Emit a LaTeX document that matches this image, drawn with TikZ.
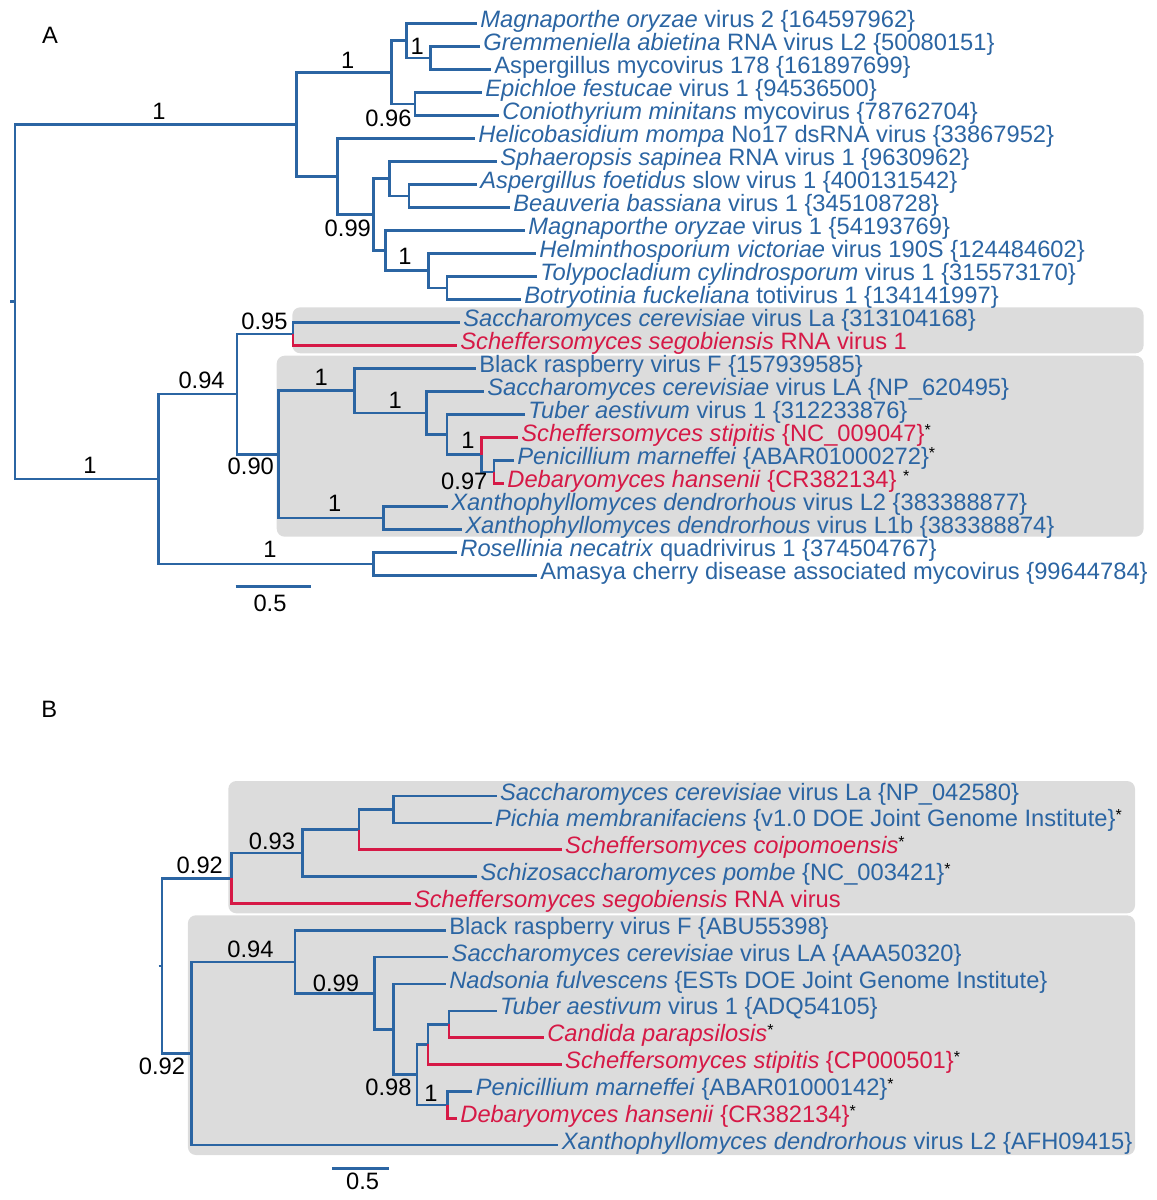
\documentclass[tikz,border=0pt]{standalone}
\usepackage{fontspec}
\setmainfont{Liberation Sans}
\definecolor{treeblue}{RGB}{43,101,163}
\definecolor{treered}{RGB}{214,25,70}
\definecolor{cladegray}{RGB}{220,220,220}
\newcommand{\starnote}{\smash{\raisebox{3pt}{\fontsize{8}{8}\selectfont\color{black}*}}}
\tikzset{
  branch/.style={treeblue, line width=1.3pt},
  redbranch/.style={treered, line width=1.3pt},
  taxon/.style={anchor=base west, inner sep=0pt, xshift=1.5pt, yshift=-2pt, text=treeblue},
  redtaxon/.style={taxon, text=treered},
  support/.style={inner sep=0pt, text=black},
  clade/.style={fill=cladegray, rounded corners=4pt},
}

\begin{document}
\begin{tikzpicture}[x=0.5pt, y=-0.5pt, font=\fontsize{11.85}{14}\selectfont]
\useasboundingbox (0,0) rectangle (1157,1200);

% shaded clades
\fill[clade] (292.3,307.3) rectangle (1143.6,353.3);
\fill[clade] (276.7,355.7) rectangle (1143.6,536.7);
\fill[clade] (228.3,781) rectangle (1135,913.3);
\fill[clade] (187.9,915.3) rectangle (1135,1155);

% panel A: tips
\coordinate (a1) at (477,23.3);
\coordinate (a2) at (480,46.3);
\coordinate (a3) at (491,69.3);
\coordinate (a4) at (482,92.3);
\coordinate (a5) at (499,115.3);
\coordinate (a6) at (475,138.3);
\coordinate (a7) at (497,161.3);
\coordinate (a8) at (477,184.3);
\coordinate (a9) at (510,207.3);
\coordinate (a10) at (525,230.3);
\coordinate (a11) at (536,253.3);
\coordinate (a12) at (537,276.3);
\coordinate (a13) at (521,299.3);
\coordinate (a14) at (460,322.3);
\coordinate (a15) at (457,345.3);
\coordinate (a16) at (476,368.3);
\coordinate (a17) at (484,391.3);
\coordinate (a18) at (525,414.3);
\coordinate (a19) at (518,437.3);
\coordinate (a20) at (514,460.3);
\coordinate (a21) at (504,483.3);
\coordinate (a22) at (448,506.3);
\coordinate (a23) at (462,529.3);
\coordinate (a24) at (457,552.3);
\coordinate (a25) at (537,575.3);

% panel A: inner nodes
\coordinate (sA) at (10.4,301.6);
\coordinate (rA) at (14.8,301.6);
\coordinate (nU) at (296.7,124.3);
\coordinate (nU1) at (391.4,72.2);
\coordinate (nU1a) at (406.2,40.6);
\coordinate (nU1a2) at (430.3,57.8);
\coordinate (nU1b) at (415.1,103.8);
\coordinate (nU2) at (337.4,176.4);
\coordinate (nU2a) at (373.7,214.5);
\coordinate (nU2a1) at (389.6,178.6);
\coordinate (nU2a1b) at (408.8,195.8);
\coordinate (nU2a2) at (385.5,250.4);
\coordinate (nU2a2b) at (428.4,270.6);
\coordinate (nU2a2b2) at (446.9,287.8);
\coordinate (nL) at (158.3,478.9);
\coordinate (nL1) at (236.8,394);
\coordinate (nL1a) at (293,333.8);
\coordinate (nL1b) at (278.2,454.2);
\coordinate (nL1b1) at (354.4,390.6);
\coordinate (nL1b1b) at (426.2,412.9);
\coordinate (nL1b1b2) at (446.9,434.4);
\coordinate (nL1b1b2b) at (481.7,454.6);
\coordinate (nL1b1b2b2) at (493.9,471.8);
\coordinate (nL1b2) at (383.7,517.8);
\coordinate (nL2) at (373.7,563.8);

% panel A: branches
\draw[branch] (sA) -- (rA);
\draw[branch] (rA) |- (nU) (rA) |- (nL);
\draw[branch] (nU) |- (nU1) (nU) |- (nU2);
\draw[branch] (nU1) |- (nU1a) (nU1) |- (nU1b);
\draw[branch] (nU1a) |- (a1) (nU1a) |- (nU1a2);
\draw[branch] (nU1a2) |- (a2) (nU1a2) |- (a3);
\draw[branch] (nU1b) |- (a4) (nU1b) |- (a5);
\draw[branch] (nU2) |- (a6) (nU2) |- (nU2a);
\draw[branch] (nU2a) |- (nU2a1) (nU2a) |- (nU2a2);
\draw[branch] (nU2a1) |- (a7) (nU2a1) |- (nU2a1b);
\draw[branch] (nU2a1b) |- (a8) (nU2a1b) |- (a9);
\draw[branch] (nU2a2) |- (a10) (nU2a2) |- (nU2a2b);
\draw[branch] (nU2a2b) |- (a11) (nU2a2b) |- (nU2a2b2);
\draw[branch] (nU2a2b2) |- (a12) (nU2a2b2) |- (a13);
\draw[branch] (nL) |- (nL1) (nL) |- (nL2);
\draw[branch] (nL1) |- (nL1a) (nL1) |- (nL1b);
\draw[branch] (nL1a) |- (a14);
\draw[redbranch] (nL1a) |- (a15);
\draw[branch] (nL1b) |- (nL1b1) (nL1b) |- (nL1b2);
\draw[branch] (nL1b1) |- (a16) (nL1b1) |- (nL1b1b);
\draw[branch] (nL1b1b) |- (a17) (nL1b1b) |- (nL1b1b2);
\draw[branch] (nL1b1b2) |- (a18) (nL1b1b2) |- (nL1b1b2b);
\draw[redbranch] (nL1b1b2b) |- (a19);
\draw[branch] (nL1b1b2b) |- (nL1b1b2b2);
\draw[branch] (nL1b1b2b2) |- (a20);
\draw[redbranch] (nL1b1b2b2) |- (a21);
\draw[branch] (nL1b2) |- (a22) (nL1b2) |- (a23);
\draw[branch] (nL2) |- (a24) (nL2) |- (a25);

% panel A: taxa
\node[taxon] (t1) at (a1) {\textit{Magnaporthe oryzae} virus 2 \{164597962\}};
\node[taxon] (t2) at (a2) {\textit{Gremmeniella abietina} RNA virus L2 \{50080151\}};
\node[taxon] (t3) at (a3) {Aspergillus mycovirus 178 \{161897699\}};
\node[taxon] (t4) at (a4) {\textit{Epichloe festucae} virus 1 \{94536500\}};
\node[taxon] (t5) at (a5) {\textit{Coniothyrium minitans} mycovirus \{78762704\}};
\node[taxon] (t6) at (a6) {\textit{Helicobasidium mompa} No17 dsRNA virus \{33867952\}};
\node[taxon] (t7) at (a7) {\textit{Sphaeropsis sapinea} RNA virus 1 \{9630962\}};
\node[taxon] (t8) at (a8) {\textit{Aspergillus foetidus} slow virus 1 \{400131542\}};
\node[taxon] (t9) at (a9) {\textit{Beauveria bassiana} virus 1 \{345108728\}};
\node[taxon] (t10) at (a10) {\textit{Magnaporthe oryzae} virus 1 \{54193769\}};
\node[taxon] (t11) at (a11) {\textit{Helminthosporium victoriae} virus 190S \{124484602\}};
\node[taxon] (t12) at (a12) {\textit{Tolypocladium cylindrosporum} virus 1 \{315573170\}};
\node[taxon] (t13) at (a13) {\textit{Botryotinia fuckeliana} totivirus 1 \{134141997\}};
\node[taxon] (t14) at (a14) {\textit{Saccharomyces cerevisiae} virus La \{313104168\}};
\node[redtaxon] (t15) at (a15) {\textit{Scheffersomyces segobiensis} RNA virus 1};
\node[taxon] (t16) at (a16) {Black raspberry virus F \{157939585\}};
\node[taxon] (t17) at (a17) {\textit{Saccharomyces cerevisiae} virus LA \{NP\_620495\}};
\node[taxon] (t18) at (a18) {\textit{Tuber aestivum} virus 1 \{312233876\}};
\node[redtaxon] (t19) at (a19) {\textit{Scheffersomyces stipitis} \{NC\_009047\}\starnote};
\node[taxon] (t20) at (a20) {\textit{Penicillium marneffei} \{ABAR01000272\}\starnote};
\node[redtaxon] (t21) at (a21) {\textit{Debaryomyces hansenii} \{CR382134\} \starnote};
\node[taxon] (t22) at (a22) {\textit{Xanthophyllomyces dendrorhous} virus L2 \{383388877\}};
\node[taxon] (t23) at (a23) {\textit{Xanthophyllomyces dendrorhous} virus L1b \{383388874\}};
\node[taxon] (t24) at (a24) {\textit{Rosellinia necatrix} quadrivirus 1 \{374504767\}};
\node[taxon] (t25) at (a25) {Amasya cherry disease associated mycovirus \{99644784\}};

% panel A: support values
\node (panelA) at (50,35) {A};
\node[support] (pA1) at (159,111.7) {1};
\node[support] (pA2) at (347.8,60) {1};
\node[support] (pA3) at (417.3,46.7) {1};
\node[support] (pA4) at (388.5,118.3) {0.96};
\node[support] (pA5) at (347.8,228.3) {0.99};
\node[support] (pA6) at (405,256.7) {1};
\node[support] (pA7) at (89.9,465) {1};
\node[support] (pA8) at (201.6,380) {0.94};
\node[support] (pA9) at (264.5,321.7) {0.95};
\node[support] (pA10) at (250.8,466.7) {0.90};
\node[support] (pA11) at (321.1,377.3) {1};
\node[support] (pA12) at (395.1,400) {1};
\node[support] (pA13) at (468,440) {1};
\node[support] (pA14) at (464.3,481) {0.97};
\node[support] (pA15) at (334.8,503.3) {1};
\node[support] (pA16) at (270,549.3) {1};

% panel A: scale
\coordinate (barA1) at (235.7,586.7);
\coordinate (barA2) at (310.8,586.7);
\draw[branch] (barA1) -- (barA2);
\node[support] (barAlab) at (270,603.3) {0.5};

% panel B: tips
\coordinate (b1) at (496.6,796);
\coordinate (b2) at (491.7,822.9);
\coordinate (b3) at (561.8,849.7);
\coordinate (b4) at (477.3,876.6);
\coordinate (b5) at (410.6,903.4);
\coordinate (b6) at (445.9,930.3);
\coordinate (b7) at (448.3,957.1);
\coordinate (b8) at (445.9,984);
\coordinate (b9) at (496.6,1010.8);
\coordinate (b10) at (543.9,1037.7);
\coordinate (b11) at (561.8,1064.5);
\coordinate (b12) at (472.4,1091.4);
\coordinate (b13) at (457,1118.2);
\coordinate (b14) at (558.4,1145.1);

% panel B: inner nodes
\coordinate (sB) at (158.5,965.9);
\coordinate (rB) at (162,965.9);
\coordinate (nBU) at (231.2,878.3);
\coordinate (nBU1) at (302.3,853.1);
\coordinate (nBU1a) at (358.9,829.6);
\coordinate (nBU1a1) at (393.3,809.5);
\coordinate (nBL) at (191.3,1053.5);
\coordinate (nBL1) at (294.9,961.8);
\coordinate (nBL1b) at (374.4,993.2);
\coordinate (nBL1b2) at (393.3,1029.3);
\coordinate (nBL1b2b) at (416.9,1074.6);
\coordinate (nBL1b2b1) at (428,1044.4);
\coordinate (nBL1b2b1a) at (448.8,1024.3);
\coordinate (nBL1b2b2) at (447.7,1104.8);

% panel B: branches
\draw[branch] (sB) -- (rB);
\draw[branch] (rB) |- (nBU) (rB) |- (nBL);
\draw[branch] (nBU) |- (nBU1);
\draw[redbranch] (nBU) |- (b5);
\draw[branch] (nBU1) |- (nBU1a) (nBU1) |- (b4);
\draw[branch] (nBU1a) |- (nBU1a1);
\draw[redbranch] (nBU1a) |- (b3);
\draw[branch] (nBU1a1) |- (b1) (nBU1a1) |- (b2);
\draw[branch] (nBL) |- (nBL1) (nBL) |- (b14);
\draw[branch] (nBL1) |- (b6) (nBL1) |- (nBL1b);
\draw[branch] (nBL1b) |- (b7) (nBL1b) |- (nBL1b2);
\draw[branch] (nBL1b2) |- (b8) (nBL1b2) |- (nBL1b2b);
\draw[branch] (nBL1b2b) |- (nBL1b2b1) (nBL1b2b) |- (nBL1b2b2);
\draw[branch] (nBL1b2b1) |- (nBL1b2b1a);
\draw[redbranch] (nBL1b2b1) |- (b11);
\draw[branch] (nBL1b2b1a) |- (b9);
\draw[redbranch] (nBL1b2b1a) |- (b10);
\draw[branch] (nBL1b2b2) |- (b12);
\draw[redbranch] (nBL1b2b2) |- (b13);

% panel B: taxa
\node[taxon] (u1) at (b1) {\textit{Saccharomyces cerevisiae} virus La \{NP\_042580\}};
\node[taxon] (u2) at (b2) {\textit{Pichia membranifaciens} \{v1.0 DOE Joint Genome Institute\}\starnote};
\node[redtaxon] (u3) at (b3) {\textit{Scheffersomyces coipomoensis}\starnote};
\node[taxon] (u4) at (b4) {\textit{Schizosaccharomyces pombe} \{NC\_003421\}\starnote};
\node[redtaxon] (u5) at (b5) {\textit{Scheffersomyces segobiensis} RNA virus};
\node[taxon] (u6) at (b6) {Black raspberry virus F \{ABU55398\}};
\node[taxon] (u7) at (b7) {\textit{Saccharomyces cerevisiae} virus LA \{AAA50320\}};
\node[taxon] (u8) at (b8) {\textit{Nadsonia fulvescens} \{ESTs DOE Joint Genome Institute\}};
\node[taxon] (u9) at (b9) {\textit{Tuber aestivum} virus 1 \{ADQ54105\}};
\node[redtaxon] (u10) at (b10) {\textit{Candida parapsilosis}\starnote};
\node[redtaxon] (u11) at (b11) {\textit{Scheffersomyces stipitis} \{CP000501\}\starnote};
\node[taxon] (u12) at (b12) {\textit{Penicillium marneffei} \{ABAR01000142\}\starnote};
\node[redtaxon] (u13) at (b13) {\textit{Debaryomyces hansenii} \{CR382134\}\starnote};
\node[taxon] (u14) at (b14) {\textit{Xanthophyllomyces dendrorhous} virus L2 \{AFH09415\}};

% panel B: support values
\node (panelB) at (49.2,709.3) {B};
\node[support] (pB1) at (199.8,865) {0.92};
\node[support] (pB2) at (271.9,841) {0.93};
\node[support] (pB3) at (250.5,949.3) {0.94};
\node[support] (pB4) at (335.9,983.3) {0.99};
\node[support] (pB5) at (388.5,1087.3) {0.98};
\node[support] (pB6) at (431,1093.3) {1};
\node[support] (pB7) at (162,1066.7) {0.92};

% panel B: scale
\coordinate (barB1) at (331.9,1168.3);
\coordinate (barB2) at (388.5,1168.3);
\draw[branch] (barB1) -- (barB2);
\node[support] (barBlab) at (362.6,1181.7) {0.5};
\end{tikzpicture}
\end{document}
